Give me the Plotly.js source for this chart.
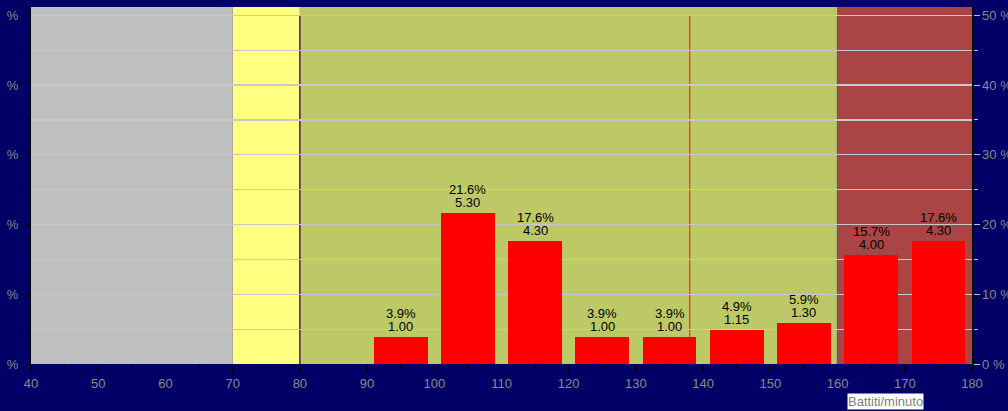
<!DOCTYPE html>
<html><head><meta charset="utf-8">
<script src="https://cdn.plot.ly/plotly-3.0.1.min.js"></script>
<style>html,body{margin:0;padding:0;background:#000066;}#chart{width:1008px;height:411px;}</style>
</head><body><div id="chart"></div>
<script>
// Heart-rate histogram data
const bpm = [95, 105, 115, 125, 135, 145, 155, 165, 175];
const pct = [3.9, 21.6, 17.6, 3.9, 3.9, 4.9, 5.9, 15.7, 17.6];
const minutes = [1.00, 5.30, 4.30, 1.00, 1.00, 1.15, 1.30, 4.00, 4.30];
const zoneStart = [40, 70, 80, 160];
const zoneEnd = [70, 80, 160, 180];
const zoneLines = [80, 160];
const avgBpm = 138;
const yTickVals = [0, 10, 20, 30, 40, 50];
const yMinorVals = [5, 15, 25, 35, 45];
const xTickVals = [40, 50, 60, 70, 80, 90, 100, 110, 120, 130, 140, 150, 160, 170, 180];
const xLabel = 'Battiti/minuto';

const FONT = 'Liberation Sans, Arial, sans-serif';
const zoneFill = ['#c0c0c0', '#ffff80', '#bdc966', '#ab4545'];
const zoneLineColor = ['#5a1a5a', '#5a5a78'];
const yMax = 51.2;
const labelGray = '#8a8a8a';

const shapes = [];
zoneStart.forEach((s, i) => shapes.push({
  type: 'rect', xref: 'x', yref: 'paper', x0: s, x1: zoneEnd[i], y0: 0, y1: 1,
  fillcolor: zoneFill[i], line: {width: 0}, layer: 'below'
}));
zoneLines.forEach((v, i) => shapes.push({
  type: 'line', xref: 'x', yref: 'y', x0: v, x1: v, y0: 0, y1: 50,
  line: {color: zoneLineColor[i], width: 1.5}, layer: 'below'
}));
shapes.push({
  type: 'line', xref: 'x', yref: 'y', x0: avgBpm, x1: avgBpm, y0: 0, y1: 50,
  line: {color: '#e8501e', width: 1.5}, layer: 'below'
});

const annotations = [];
bpm.forEach((b, i) => {
  annotations.push({x: b, y: pct[i], xref: 'x', yref: 'y', text: minutes[i].toFixed(2),
    showarrow: false, yanchor: 'bottom', yshift: 1, font: {family: FONT, size: 13, color: '#000'}});
  annotations.push({x: b, y: pct[i], xref: 'x', yref: 'y', text: pct[i].toFixed(1) + '%',
    showarrow: false, yanchor: 'bottom', yshift: 14, font: {family: FONT, size: 13, color: '#000'}});
});
annotations.push({
  xref: 'paper', yref: 'paper', x: 0.867, y: -0.0826, xanchor: 'left', yanchor: 'top',
  text: xLabel, showarrow: false, bgcolor: '#ffffff', borderpad: 0,
  font: {family: FONT, size: 13, color: '#808080'}
});

const traces = [
  {type: 'bar', x: bpm, y: pct, width: 8, marker: {color: '#ff0000', line: {width: 0}},
   hoverinfo: 'skip', showlegend: false},
  {type: 'scatter', x: bpm, y: pct, yaxis: 'y2', mode: 'none', hoverinfo: 'skip', showlegend: false}
];

const layout = {
  width: 1008, height: 411,
  paper_bgcolor: '#000066', plot_bgcolor: 'rgba(0,0,0,0)',
  margin: {l: 31, r: 36, t: 7, b: 47, pad: 0},
  font: {family: FONT, size: 13, color: labelGray},
  showlegend: false,
  bargap: 0,
  xaxis: {
    range: [40, 180], tickmode: 'array', tickvals: xTickVals,
    ticks: 'outside', ticklen: 7, tickcolor: '#000', tickwidth: 1.5,
    showgrid: false, zeroline: false, showline: false,
    tickfont: {family: FONT, size: 13, color: labelGray},
    minor: {dtick: 5, tick0: 0, ticks: 'outside', ticklen: 3, tickcolor: '#000', showgrid: false}
  },
  yaxis: {
    range: [0, yMax], tickmode: 'array', tickvals: yTickVals, ticktext: yTickVals.map(() => '%'),
    ticks: 'outside', ticklen: 5, tickcolor: '#000', tickwidth: 1, ticklabelstandoff: 4,
    showgrid: true, gridcolor: '#c8c8c8', gridwidth: 1.2, zeroline: false,
    showline: true, linecolor: '#000', linewidth: 1,
    tickfont: {family: FONT, size: 13, color: labelGray},
    minor: {tickmode: 'array', tickvals: yMinorVals, ticks: 'outside', ticklen: 4, tickcolor: '#000',
            showgrid: true, gridcolor: '#c8c8c8', gridwidth: 1.2}
  },
  yaxis2: {
    overlaying: 'y', side: 'right', range: [0, yMax], tickmode: 'array', tickvals: yTickVals,
    ticktext: yTickVals.map(v => v + ' %'), ticks: 'outside', ticklen: 6, tickcolor: '#c0c0c0', tickwidth: 1,
    showgrid: false, zeroline: false, showline: true, linecolor: '#000', linewidth: 1.5,
    tickfont: {family: FONT, size: 13, color: labelGray},
    minor: {tickmode: 'array', tickvals: yMinorVals, ticks: 'outside', ticklen: 4, tickcolor: '#c0c0c0'}
  },
  shapes: shapes,
  annotations: annotations
};

Plotly.newPlot('chart', traces, layout, {displayModeBar: false, staticPlot: true});
</script>
</body></html>
